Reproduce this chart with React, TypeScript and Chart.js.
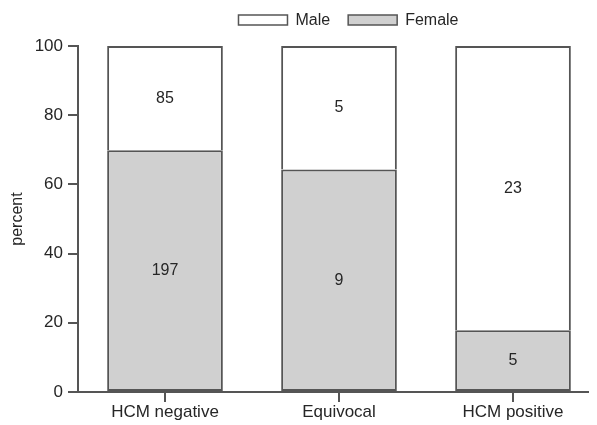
import React, { useEffect, useRef } from "react";
import { Chart, registerables } from "chart.js";

Chart.register(...registerables);

const categories = ["HCM negative", "Equivocal", "HCM positive"];
const femaleCounts = [197, 9, 5];
const maleCounts = [85, 5, 23];
const yTicks = [0, 20, 40, 60, 80, 100];

const totals = categories.map((_, i) => femaleCounts[i] + maleCounts[i]);
const femalePct = femaleCounts.map((v, i) => (v / totals[i]) * 100);
const malePct = maleCounts.map((v, i) => (v / totals[i]) * 100);

const FONT = "'Liberation Sans', Arial, Helvetica, sans-serif";
const TEXT = "#262626";
const LINE = "#555";
const FEMALE_FILL = "#d0d0d0";

const countLabels = {
  id: "countLabels",
  afterDatasetsDraw(chart: any) {
    const ctx = chart.ctx;
    ctx.save();
    ctx.font = `16px ${FONT}`;
    ctx.fillStyle = TEXT;
    ctx.textAlign = "center";
    ctx.textBaseline = "middle";
    chart.data.datasets.forEach((ds: any, di: number) => {
      const meta = chart.getDatasetMeta(di);
      meta.data.forEach((bar: any, i: number) => {
        const y = (bar.y + bar.base) / 2;
        ctx.fillText(String(ds.counts[i]), bar.x, y);
      });
    });
    ctx.restore();
  },
};

const customLegend = {
  id: "customLegend",
  afterDraw(chart: any) {
    const ctx = chart.ctx;
    const items = [...chart.data.datasets].reverse();
    ctx.save();
    ctx.font = `16px ${FONT}`;
    ctx.textBaseline = "middle";
    ctx.textAlign = "left";
    const boxW = 49;
    const boxH = 10;
    const gap = 8;
    const itemGap = 18;
    const widths = items.map((d: any) => boxW + gap + ctx.measureText(d.label).width);
    const total = widths.reduce((a: number, b: number) => a + b, 0) + itemGap * (items.length - 1);
    let x = 340.5 - total / 2;
    const yMid = 12;
    items.forEach((d: any, i: number) => {
      ctx.fillStyle = d.backgroundColor;
      ctx.fillRect(x, yMid - boxH / 2, boxW, boxH);
      ctx.strokeStyle = LINE;
      ctx.lineWidth = 1.5;
      ctx.strokeRect(x, yMid - boxH / 2, boxW, boxH);
      ctx.fillStyle = TEXT;
      ctx.fillText(d.label, x + boxW + gap, yMid + 1);
      x += widths[i] + itemGap;
    });
    ctx.restore();
  },
};

export default function App() {
  const ref = useRef<HTMLCanvasElement | null>(null);
  useEffect(() => {
    if (!ref.current) return;
    const chart = new Chart(ref.current, {
      type: "bar",
      data: {
        labels: categories,
        datasets: [
          {
            label: "Female",
            data: femalePct,
            counts: femaleCounts,
            backgroundColor: FEMALE_FILL,
            borderColor: LINE,
            borderWidth: 2,
            borderSkipped: false,
          } as any,
          {
            label: "Male",
            data: malePct,
            counts: maleCounts,
            backgroundColor: "#ffffff",
            borderColor: LINE,
            borderWidth: 2,
            borderSkipped: "bottom",
          } as any,
        ],
      },
      options: {
        animation: false,
        responsive: true,
        maintainAspectRatio: false,
        layout: { padding: { top: 38, right: 8, left: 0, bottom: 0 } },
        datasets: { bar: { barPercentage: 0.665, categoryPercentage: 1 } },
        plugins: {
          legend: { display: false },
          tooltip: { enabled: false },
        },
        scales: {
          x: {
            stacked: true,
            offset: true,
            grid: {
              offset: false,
              drawOnChartArea: false,
              drawTicks: true,
              tickLength: 10,
              color: LINE,
              lineWidth: 2,
            },
            border: { color: LINE, width: 2 },
            ticks: {
              color: TEXT,
              font: { family: FONT, size: 17 },
              padding: 0,
              maxRotation: 0,
            },
            afterFit(scale: any) {
              scale.height = 33;
            },
          },
          y: {
            stacked: true,
            min: 0,
            max: 100,
            afterBuildTicks(scale: any) {
              scale.ticks = yTicks.map((v) => ({ value: v }));
            },
            grid: {
              drawOnChartArea: false,
              drawTicks: true,
              tickLength: 10,
              color: LINE,
              lineWidth: 2,
            },
            border: { color: LINE, width: 2 },
            ticks: {
              color: TEXT,
              font: { family: FONT, size: 17 },
              padding: 5,
            },
            title: {
              display: true,
              text: "percent",
              color: TEXT,
              font: { family: FONT, size: 16 },
              padding: { top: 0, bottom: 0 },
            },
            afterFit(scale: any) {
              scale.width = 70;
            },
          },
        },
      },
      plugins: [countLabels, customLegend],
    });
    return () => chart.destroy();
  }, []);
  return (
    <div style={{ width: 589, height: 417, overflow: "hidden" }}>
      <div style={{ width: 600, height: 417, position: "relative" }}>
        <canvas ref={ref} />
      </div>
    </div>
  );
}
